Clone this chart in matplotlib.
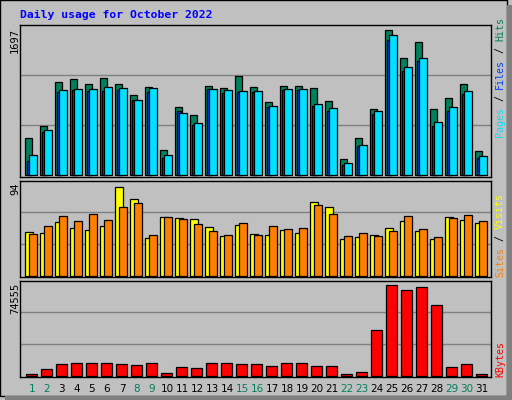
import numpy as np
import matplotlib.pyplot as plt
from matplotlib.patches import Rectangle

# ---------------- data ----------------
days = np.arange(1, 32)
weekend_days = [1, 2, 8, 9, 15, 16, 22, 23, 29, 30]

hits = [418, 563, 1054, 1087, 1031, 1098, 1031, 908, 998, 283, 775, 685, 1009, 987, 1121, 998,
        830, 1009, 1009, 987, 842, 183, 418, 752, 1645, 1322, 1500, 752, 875, 1031, 272]
files = [161, 485, 942, 965, 953, 953, 965, 853, 942, 194, 730, 574, 976, 931, 942, 942,
         775, 965, 965, 786, 730, 116, 327, 697, 1523, 1177, 1288, 563, 730, 920, 194]
pages = [228, 518, 965, 976, 976, 998, 987, 853, 987, 228, 708, 596, 976, 965, 953, 953,
         786, 976, 976, 808, 764, 138, 339, 730, 1579, 1221, 1322, 607, 775, 953, 217]
sites = [43.7, 42.7, 53.2, 47.5, 45.6, 49.4, 87.4, 76, 38, 57.9, 57, 56, 48.4, 39.9, 50.3, 41.8,
         40.8, 45.6, 42.7, 73.1, 68.4, 37, 38.9, 40.8, 47.5, 54.1, 44.6, 37, 57.9, 55.1, 52.2]
visits = [41.8, 49.4, 58.9, 54.1, 60.8, 55.1, 68.4, 72.2, 40.8, 57.9, 56, 51.3, 44.6, 40.8, 52.2, 40.8,
          49.4, 46.5, 47.5, 70.3, 60.8, 39.9, 42.7, 39.9, 44.6, 58.9, 46.5, 38.9, 57, 59.8, 54.1]
kbytes = [1825, 5735, 9646, 10428, 10428, 10428, 9646, 8864, 10428, 2607, 7300, 6518, 10428, 10428, 9646, 9646,
          8082, 10428, 10428, 8082, 8082, 1825, 3389, 36237, 71432, 67521, 69868, 55790, 7300, 9646, 1825]

max_top, max_mid, max_bot = 1697, 94, 74555

W, H = 512, 400
BG = '#c0c0c0'
fig = plt.figure(figsize=(W / 100, H / 100), dpi=100, facecolor=BG)


def fx(x):
    return x / W


def fy(y):
    return 1 - y / H


# outer frame
fig.patches.append(Rectangle((fx(0), fy(396)), fx(507), 396 / H, transform=fig.transFigure,
                             fill=False, edgecolor='black', lw=1))
fig.patches.append(Rectangle((fx(507), fy(400)), fx(5), 395 / H, transform=fig.transFigure,
                             color='#808080', lw=0))
fig.patches.append(Rectangle((fx(5), fy(400)), fx(507), 4 / H, transform=fig.transFigure,
                             color='#808080', lw=0))


def make_ax(top, bottom, ymax):
    ax = fig.add_axes([fx(20), fy(bottom), fx(490.7 - 20), (bottom - top) / H])
    ax.set_facecolor(BG)
    ax.set_xlim(0.27, 31.65)
    ax.set_ylim(-ymax * 0.01, ymax * 1.0)
    for g in (ymax / 3, ymax * 2 / 3):
        ax.axhline(g, color='#808080', lw=1, zorder=0)
    ax.set_xticks([])
    ax.set_yticks([])
    for s in ax.spines.values():
        s.set_color('black')
        s.set_linewidth(1)
    return ax


def bars(ax, vals, x0, x1, color):
    ax.bar(days + x0, vals, width=x1 - x0, align='edge', color=color,
           edgecolor='black', linewidth=0.9, zorder=2)


ax1 = make_ax(25, 177, max_top)
bars(ax1, hits, -0.40, 0.07, '#00805c')
bars(ax1, files, -0.25, 0.0, '#0040ff')
bars(ax1, pages, -0.11, 0.38, '#00e0ff')

ax2 = make_ax(180.7, 277, max_mid)
bars(ax2, sites, -0.38, 0.15, '#ffff00')
bars(ax2, visits, -0.11, 0.38, '#ff8000')

ax3 = make_ax(280.7, 377, max_bot)
bars(ax3, kbytes, -0.31, 0.38, '#ff0000')

mono = 'DejaVu Sans Mono'
fig.text(fx(20), fy(15), 'Daily usage for October 2022', color='#0000ff', family=mono,
         fontweight='bold', fontsize=8.2, va='center', ha='left')

for label, ytop in (('1697', 28), ('94', 182), ('74555', 283)):
    fig.text(fx(15), fy(ytop), label, rotation=90, family=mono, fontsize=7.5,
             ha='center', va='top')


def right_label(parts, ybottom):
    y = ybottom
    for txt, col in parts:
        fig.text(fx(500), fy(y), txt, rotation=90, family=mono, fontsize=7.2,
                 color=col, ha='center', va='bottom')
        y -= 6 * len(txt)


right_label([('Pages', '#00e0ff'), (' / ', 'black'), ('Files', '#0040ff'),
             (' / ', 'black'), ('Hits', '#00805c')], 137)
right_label([('Sites', '#ff8000'), (' / ', 'black'), ('Visits', '#ffff00')], 277)
right_label([('KBytes', '#ff0000')], 377)

for d in days:
    x = 20 + (d - 0.27) / (31.65 - 0.27) * (490.7 - 20) + 1
    fig.text(fx(x), fy(389), str(d), fontsize=7.5, ha='center', va='center',
             color='#00805c' if d in weekend_days else 'black')

fig.savefig('out.png', dpi=100, facecolor=BG)
